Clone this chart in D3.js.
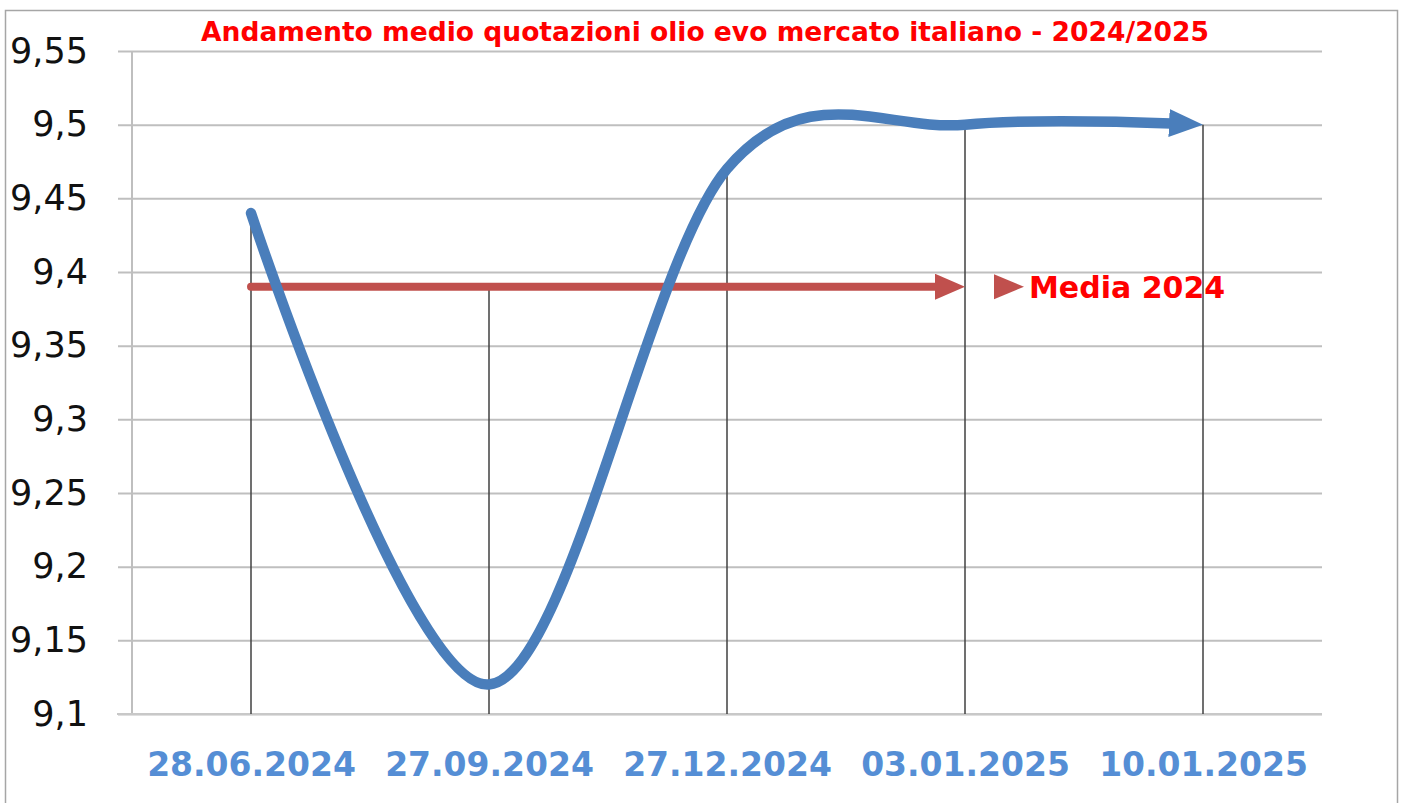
<!DOCTYPE html>
<html>
<head>
<meta charset="utf-8">
<script src="https://cdn.jsdelivr.net/npm/d3@7"></script>
<style>
  body { margin: 0; background: #fff; }
  text { font-family: "DejaVu Sans", Verdana, sans-serif; }
</style>
</head>
<body>
<svg></svg>
<script>
var dates = ["28.06.2024", "27.09.2024", "27.12.2024", "03.01.2025", "10.01.2025"];
var prezzi = [9.44, 9.12, 9.47, 9.50, 9.50];
var media2024 = [9.39, 9.39, 9.39, 9.39];
var yTicks = [9.1, 9.15, 9.2, 9.25, 9.3, 9.35, 9.4, 9.45, 9.5, 9.55];
var titolo = "Andamento medio quotazioni olio evo mercato italiano - 2024/2025";
var legenda = "Media 2024";

var W = 1402, H = 803;
var margin = {top: 51, right: 80, bottom: 89, left: 132},
    width = W - margin.left - margin.right,
    height = H - margin.top - margin.bottom;

var blu = "#4a7ebb", rosso = "#c0504d";

var root = d3.select("svg")
    .attr("width", W)
    .attr("height", H);

// cornice esterna
root.append("rect")
    .attr("x", 5.5).attr("y", 10.5)
    .attr("width", 1392).attr("height", 820)
    .attr("fill", "none")
    .attr("stroke", "#a6a6a6")
    .attr("stroke-width", 1.5);

root.append("text")
    .attr("x", 705).attr("y", 41)
    .attr("text-anchor", "middle")
    .attr("textLength", 1008)
    .attr("lengthAdjust", "spacingAndGlyphs")
    .attr("font-size", 26)
    .attr("font-weight", "bold")
    .attr("fill", "#ff0000")
    .text(titolo);

var defs = root.append("defs");
defs.append("marker")
    .attr("id", "frecciaBlu")
    .attr("viewBox", "0 0 34 28")
    .attr("refX", 34).attr("refY", 14)
    .attr("markerWidth", 34).attr("markerHeight", 28)
    .attr("markerUnits", "userSpaceOnUse")
    .attr("orient", "auto")
  .append("path")
    .attr("d", "M0,0L34,14L0,28Z")
    .attr("fill", blu);
defs.append("marker")
    .attr("id", "frecciaRossa")
    .attr("viewBox", "0 0 30 26")
    .attr("refX", 30).attr("refY", 13)
    .attr("markerWidth", 30).attr("markerHeight", 26)
    .attr("markerUnits", "userSpaceOnUse")
    .attr("orient", "auto")
  .append("path")
    .attr("d", "M0,0L30,13L0,26Z")
    .attr("fill", rosso);

var svg = root.append("g")
    .attr("transform", "translate(" + margin.left + "," + margin.top + ")");

var x = d3.scalePoint()
    .domain(dates)
    .range([0, width])
    .padding(0.5);

var y = d3.scaleLinear()
    .domain([9.1, 9.55])
    .range([height, 0]);

var virgola = d3.formatLocale({decimal: ",", thousands: ".", grouping: [3], currency: ["", "€"]});

// griglia + etichette asse y
var gy = svg.append("g")
    .attr("transform", "translate(-14,0)")
    .call(d3.axisLeft(y)
        .tickValues(yTicks)
        .tickSize(-(width + 14))
        .tickPadding(30)
        .tickFormat(virgola.format("~g")));
gy.select(".domain").remove();
gy.selectAll(".tick line")
    .attr("stroke", "#bfbfbf")
    .attr("stroke-width", 2);
gy.selectAll(".tick text")
    .attr("font-family", "DejaVu Sans")
    .attr("font-size", 35)
    .attr("fill", "#111");

svg.append("line")
    .attr("x1", 0).attr("x2", 0)
    .attr("y1", 0).attr("y2", height)
    .attr("stroke", "#bfbfbf")
    .attr("stroke-width", 2);

// asse x
var gx = svg.append("g")
    .attr("transform", "translate(0," + height + ")")
    .call(d3.axisBottom(x).tickSize(0).tickPadding(39));
gx.select(".domain").remove();
gx.selectAll(".tick text")
    .attr("font-family", "DejaVu Sans")
    .attr("font-weight", "bold")
    .attr("font-size", 33)
    .attr("fill", "#558ed5");

svg.append("line")
    .attr("x1", -15).attr("x2", width)
    .attr("y1", height).attr("y2", height)
    .attr("stroke", "#c8c8c8")
    .attr("stroke-width", 2);

// linee di proiezione
svg.append("g")
    .selectAll("line")
    .data(dates)
    .enter()
    .append("line")
        .attr("x1", function(d) { return x(d); })
        .attr("x2", function(d) { return x(d); })
        .attr("y1", function(d, i) {
            var v = media2024[i] !== undefined ? Math.max(prezzi[i], media2024[i]) : prezzi[i];
            return y(v);
        })
        .attr("y2", height)
        .attr("stroke", "#404040")
        .attr("stroke-width", 1.5);

function tronca(path, quanto) {
    var L = path.node().getTotalLength();
    path.attr("stroke-dasharray", (L - quanto) + " " + L);
}

// media 2024
var pm = svg.append("path")
    .datum(media2024)
    .attr("fill", "none")
    .attr("stroke", rosso)
    .attr("stroke-width", 8)
    .attr("stroke-linecap", "round")
    .attr("marker-end", "url(#frecciaRossa)")
    .attr("d", d3.line()
        .x(function(d, i) { return x(dates[i]); })
        .y(function(d) { return y(d); }));
tronca(pm, 20);

// quotazioni
var pq = svg.append("path")
    .datum(prezzi)
    .attr("fill", "none")
    .attr("stroke", blu)
    .attr("stroke-width", 10.5)
    .attr("stroke-linecap", "round")
    .attr("marker-end", "url(#frecciaBlu)")
    .attr("d", d3.line()
        .curve(d3.curveCardinal.tension(0))
        .x(function(d, i) { return x(dates[i]); })
        .y(function(d) { return y(d); }));
tronca(pq, 24);

// legenda
var leg = svg.append("g")
    .attr("transform", "translate(" + (x(dates[3]) + 29) + "," + y(media2024[3]) + ")");
leg.append("path")
    .attr("d", "M0,-12.5L30,0L0,12.5Z")
    .attr("fill", rosso);
leg.append("text")
    .attr("x", 35)
    .attr("dy", "0.36em")
    .attr("font-size", 30)
    .attr("font-weight", "bold")
    .attr("fill", "#ff0000")
    .text(legenda);
</script>
</body>
</html>
